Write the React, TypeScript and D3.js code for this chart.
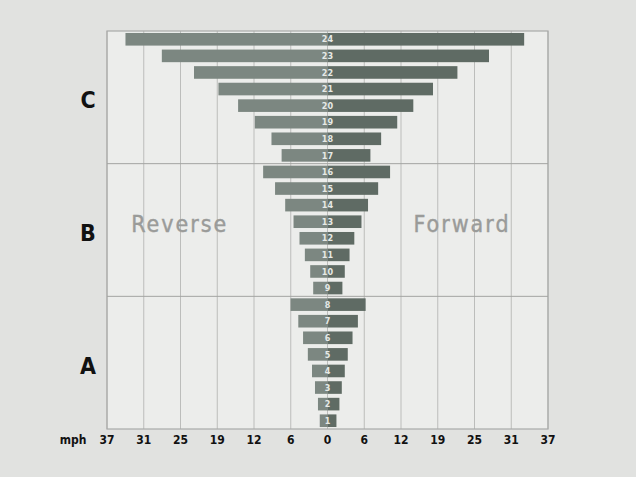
import React from "react";
import * as d3 from "d3";

const gears = d3.range(1, 25);
const reverseMph = [1.3, 1.6, 2.1, 2.6, 3.3, 4.1, 4.9, 6.2, 2.4, 2.9, 3.8, 4.7, 5.7, 7.1, 8.8, 10.8, 7.7, 9.4, 12.2, 15.0, 18.3, 22.4, 27.8, 33.9];
const forwardMph = [1.5, 2.0, 2.4, 2.9, 3.4, 4.2, 5.1, 6.4, 2.5, 2.9, 3.7, 4.5, 5.7, 6.8, 8.5, 10.5, 7.2, 9.0, 11.7, 14.4, 17.7, 21.8, 27.1, 33.0];
const ranges = [
  { name: "A", from: 1, to: 8 },
  { name: "B", from: 9, to: 16 },
  { name: "C", from: 17, to: 24 },
];
const maxMph = 37;
const tickValues = d3.range(-6, 7).map((i) => (i * maxMph) / 6);

const W = 636;
const H = 477;
const left = 107;
const right = 548;
const top = 31;
const bottom = 429;
const font = "'Liberation Sans Narrow', 'DejaVu Sans Condensed', 'Liberation Sans', sans-serif";

export default function App() {
  const x = d3.scaleLinear().domain([-maxMph, maxMph]).range([left, right]);
  const y = d3
    .scaleBand<number>()
    .domain([...gears].reverse())
    .range([top, bottom])
    .paddingInner(0.24)
    .paddingOuter(0.12);
  const step = y.step();
  const cx = x(0);

  return (
    <svg width={W} height={H} style={{ position: "absolute", left: 0, top: 0 }}>
      <rect x={0} y={0} width={W} height={H} fill="#e1e2e0" />
      <rect x={left} y={top} width={right - left} height={bottom - top} fill="#ecedeb" />
      {tickValues.map((t, i) => (
        <line key={"g" + i} x1={x(t)} x2={x(t)} y1={top} y2={bottom} stroke="#bcbdbb" strokeWidth={1} />
      ))}
      <rect x={left} y={top} width={right - left} height={bottom - top} fill="none" stroke="#a9aaa8" strokeWidth={1.2} />
      {ranges.slice(0, 2).map((r) => {
        const yy = (y(r.to)! + y(r.to + 1)! + y.bandwidth()) / 2;
        return <line key={"d" + r.name} x1={left} x2={right} y1={yy} y2={yy} stroke="#a3a4a2" strokeWidth={1} />;
      })}
      {gears.map((g, i) => (
        <g key={"b" + g}>
          <rect x={x(-reverseMph[i])} y={y(g)} width={cx - x(-reverseMph[i])} height={y.bandwidth()} fill="#7c8781" />
          <rect x={cx} y={y(g)} width={x(forwardMph[i]) - cx} height={y.bandwidth()} fill="#5f6b64" />
          <text
            x={cx}
            y={y(g)! + y.bandwidth() / 2}
            dy="0.35em"
            textAnchor="middle"
            fontFamily={font}
            fontWeight="bold"
            fontSize={9}
            fill="#e6e9e6"
          >
            {g}
          </text>
        </g>
      ))}
      {ranges.map((r) => {
        const y0 = y(r.to)! - (step - y.bandwidth()) / 2;
        const y1 = y(r.from)! + y.bandwidth() + (step - y.bandwidth()) / 2;
        return (
          <text
            key={"r" + r.name}
            x={88}
            y={(y0 + y1) / 2 + 3}
            dy="0.35em"
            textAnchor="middle"
            fontFamily={font}
            fontWeight="bold"
            fontSize={23}
            fill="#111"
          >
            {r.name}
          </text>
        );
      })}
      <text x={x(-maxMph * 0.67)} y={232} textAnchor="middle" fontFamily={font} fontSize={23} letterSpacing={2} stroke="#9a9b99" strokeWidth={0.4} fill="#9a9b99">
        Reverse
      </text>
      <text x={x(maxMph * 0.61)} y={232} textAnchor="middle" fontFamily={font} fontSize={23} letterSpacing={2} stroke="#9a9b99" strokeWidth={0.4} fill="#9a9b99">
        Forward
      </text>
      <text x={73} y={444} textAnchor="middle" fontFamily={font} fontWeight="bold" fontSize={12} fill="#111">
        mph
      </text>
      {tickValues.map((t, i) => (
        <text key={"t" + i} x={x(t)} y={444} textAnchor="middle" fontFamily={font} fontWeight="bold" fontSize={12} fill="#111">
          {Math.round(Math.abs(t))}
        </text>
      ))}
    </svg>
  );
}
